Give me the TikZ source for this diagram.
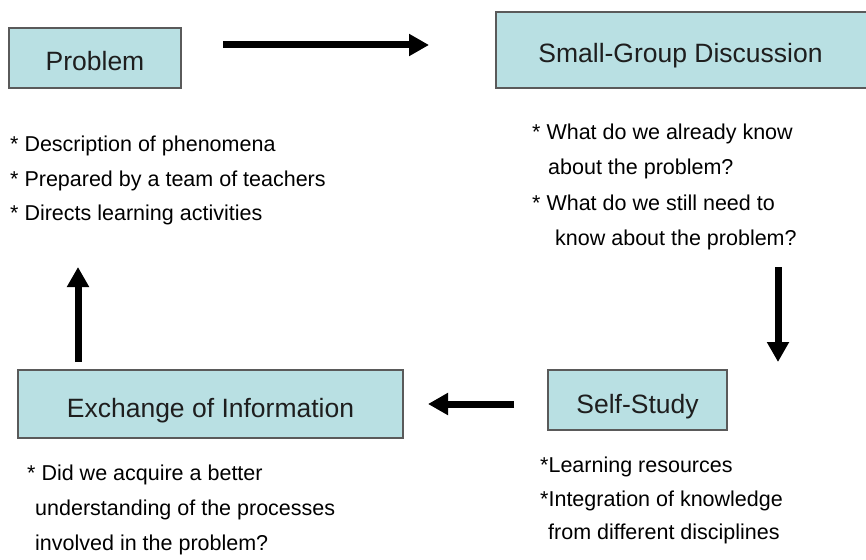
\documentclass[tikz,border=0pt]{standalone}
\usepackage{fontspec}
\setsansfont{Liberation Sans}
\usetikzlibrary{arrows.meta,positioning}
\definecolor{box_fill}{RGB}{185,224,227}
\definecolor{box_line}{RGB}{90,90,90}
\definecolor{text_gray}{RGB}{30,30,30}

\begin{document}
\begin{tikzpicture}[auto,>=Triangle,font=\sffamily,x=1pt,y=-1pt,
    stage/.style={draw=box_line,fill=box_fill,line width=1.3pt,inner sep=0pt,
        text height=26pt,text depth=0pt,
        text=text_gray,font=\sffamily\fontsize{26.5}{30}\selectfont},
    notes/.style={align=left,inner sep=0pt,anchor=north west,
        font=\sffamily\fontsize{21.5}{34.5}\selectfont},
    flow/.style={line width=7pt,-{Triangle[length=20pt,width=21pt]}}]

        \clip (0,0) rectangle (866,559);

        % the four stages
        \node[stage,minimum width=172pt,minimum height=60pt] (problem) at (95,58) {Problem};
        \node[stage,minimum width=372pt,minimum height=76pt] (discussion) at (682,50) {\hspace{-3pt}Small-Group Discussion};
        \node[stage,minimum width=179pt,minimum height=60pt] (self_study) at (637.5,400) {Self-Study};
        \node[stage,minimum width=385pt,minimum height=68pt] (exchange) at (210.5,404) {Exchange of Information};

        % remarks below each stage
        \node[notes] (problem_notes) at (10,136) {* Description of phenomena\\
            * Prepared by a team of teachers\\
            * Directs learning activities};
        \node[notes,font=\sffamily\fontsize{21.5}{35.2}\selectfont] (discussion_notes) at (532,124) {* What do we already know\\
            \hspace{16pt}about the problem?\\
            * What do we still need to\\
            \hspace{23pt}know about the problem?};
        \node[notes,font=\sffamily\fontsize{21.5}{35}\selectfont] (exchange_notes) at (27,465) {* Did we acquire a better\\
            \hspace{8pt}understanding of the processes\\
            \hspace{8pt}involved in the problem?};
        \node[notes,font=\sffamily\fontsize{21.5}{33.5}\selectfont] (self_study_notes) at (540,457) {*Learning resources\\
            *Integration of knowledge\\
            \hspace{8pt}from different disciplines};

        % arrow ends
        \coordinate (right_start) at (223,45);
        \coordinate (right_end) at (429,45);
        \coordinate (down_start) at (778,267);
        \coordinate (down_end) at (778,362);
        \coordinate (left_start) at (514,404);
        \coordinate (left_end) at (428,404);
        \coordinate (up_start) at (78,362);
        \coordinate (up_end) at (78,267);

        \draw[flow] (right_start) -- (right_end);
        \draw[flow] (down_start) -- (down_end);
        \draw[flow] (left_start) -- (left_end);
        \draw[flow] (up_start) -- (up_end);
    \end{tikzpicture}
\end{document}
